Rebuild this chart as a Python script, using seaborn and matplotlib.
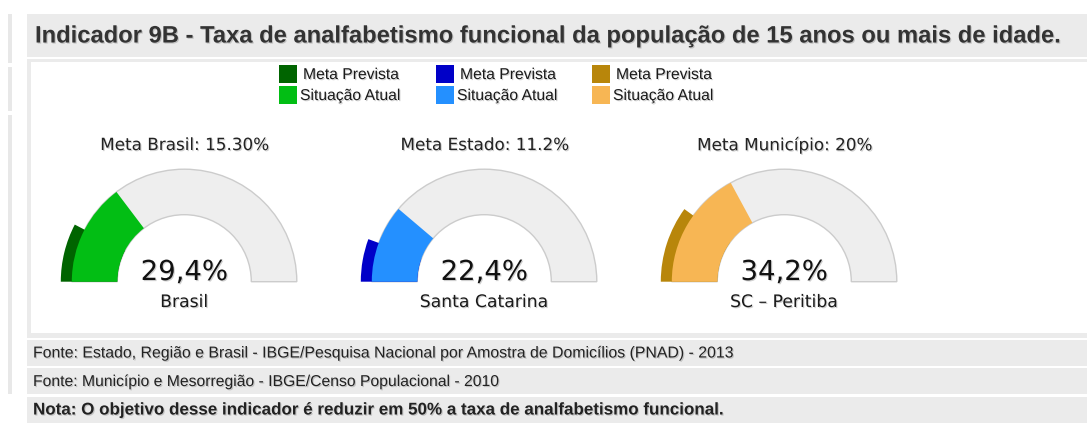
import matplotlib
matplotlib.use("Agg")
import matplotlib.pyplot as plt
import matplotlib.patheffects as pe
from matplotlib.patches import Wedge, Rectangle
from matplotlib import font_manager
import seaborn as sns

# --------------------------------------------------
# Data
# --------------------------------------------------

regions = ["Brasil", "Santa Catarina", "SC – Peritiba"]
meta_labels = ["Meta Brasil: 15.30%", "Meta Estado: 11.2%", "Meta Município: 20%"]
meta_values = [15.3, 11.2, 20.0]
current_values = [29.4, 22.4, 34.2]

meta_colors = ["#006400", "#0000C8", "#B8860B"]
current_colors = ["#02BE14", "#2490FF", "#F7B654"]

legend_labels = ["Meta Prevista", "Situação Atual"]

title = "Indicador 9B - Taxa de analfabetismo funcional da população de 15 anos ou mais de idade."
footers = [
    "Fonte: Estado, Região e Brasil - IBGE/Pesquisa Nacional por Amostra de Domicílios (PNAD) - 2013",
    "Fonte: Município e Mesorregião - IBGE/Censo Populacional - 2010",
    "Nota: O objetivo desse indicador é reduzir em 50% a taxa de analfabetismo funcional.",
]

# --------------------------------------------------
# Style
# --------------------------------------------------

sns.set_theme(style="white")
plt.rcParams["font.family"] = ["DejaVu Sans"]

installed = {f.name for f in font_manager.fontManager.ttflist}
narrow = "Liberation Sans Narrow" if "Liberation Sans Narrow" in installed else "Liberation Sans"

W, H = 1087, 438
fig = plt.figure(figsize=(W / 100, H / 100), dpi=100)
ax = fig.add_axes([0, 0, 1, 1])
ax.set_xlim(0, W)
ax.set_ylim(H, 0)
ax.axis("off")

shadow = [pe.SimplePatchShadow(offset=(0.8, -0.8), shadow_rgbFace="#777777", alpha=0.35), pe.Normal()]
panel = "#EBEBEB"

# panels
for y0, y1 in [(14, 63), (67, 111), (115, 394)]:
    ax.add_patch(Rectangle((8, y0), 4, y1 - y0, color="#E8E8E8", lw=0))
ax.add_patch(Rectangle((27, 14), W - 27, 43, color=panel, lw=0))
ax.add_patch(Rectangle((27, 59), W - 27, 279, color=panel, lw=0))
ax.add_patch(Rectangle((31, 62), W - 31, 271, color="white", lw=0))
for y0 in [340, 368, 397]:
    ax.add_patch(Rectangle((27, y0), W - 27, 26, color=panel, lw=0))


def fit(t, width):
    fig.canvas.draw()
    bb = t.get_window_extent(fig.canvas.get_renderer())
    t.set_fontsize(t.get_fontsize() * width / bb.width)


t = ax.text(35, 36, title, fontsize=14, fontweight="bold", family=narrow,
            color="#333333", va="center", ha="left", path_effects=shadow)
fit(t, 1028)

footer_widths = [702, 467, 691]
for i, (txt, fw) in enumerate(zip(footers, footer_widths)):
    t = ax.text(33, 353 + i * 28.5, txt, fontsize=10, family=narrow,
                fontweight="bold" if i == 2 else "normal",
                color="#222222", va="center", ha="left", path_effects=shadow)
    fit(t, fw)

# legend
legend_x = [279, 436, 592]
for j in range(3):
    for k, color in enumerate([meta_colors[j], current_colors[j]]):
        y = 65 + k * 21
        ax.add_patch(Rectangle((legend_x[j], y), 17.5, 17.5, color=color, lw=0))
        ax.text(legend_x[j] + (24 if k == 0 else 21), y + 9.5, legend_labels[k],
                fontsize=11.3, family="Liberation Sans", color="#1A1A1A",
                va="center", ha="left", path_effects=shadow)

# gauges
centers = [184.3, 484.3, 784.3]
base_y = 281.7
r_out, r_in = 112.5, 67

for cx, region, mlabel, meta, cur, mc, cc in zip(
        centers, regions, meta_labels, meta_values, current_values, meta_colors, current_colors):
    ax.add_patch(Wedge((cx, base_y), r_out, 180, 360, width=r_out - r_in,
                       facecolor="#EEEEEE", edgecolor="#CCCCCC", lw=1))
    ax.add_patch(Wedge((cx, base_y), 123.5, 180, 180 + 180 * meta / 100,
                       width=123.5 - r_in, facecolor=mc, lw=0))
    ax.add_patch(Wedge((cx, base_y), r_out, 180, 180 + 180 * cur / 100,
                       width=r_out - r_in, facecolor=cc, lw=0))
    ax.text(cx, 145, mlabel, fontsize=12.1, color="#222222", ha="center", va="center",
            path_effects=shadow)
    ax.text(cx, 272, f"{cur:.1f}%".replace(".", ","), fontsize=19.8, color="#111111",
            ha="center", va="center", path_effects=shadow)
    ax.text(cx, 302, region, fontsize=12.4, color="#1A1A1A", ha="center", va="center",
            path_effects=shadow)

fig.savefig("out.png", dpi=100)
